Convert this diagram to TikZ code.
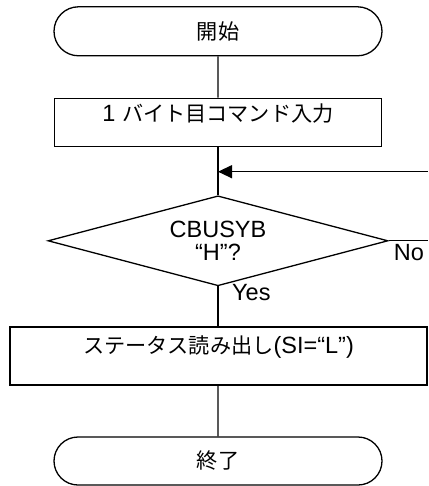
\documentclass[tikz,border=0pt]{standalone}
\usepackage{fontspec}
\setmainfont{Liberation Sans}
\newfontfamily\jp[Scale=0.9]{Noto Sans CJK JP}
\usetikzlibrary{arrows.meta, shapes.geometric, shapes.misc}
\tikzset{
  every picture/.style={line width=1.3pt, font=\fontsize{23.5pt}{21pt}\selectfont},
  terminal/.style={draw, rounded rectangle, minimum width=328pt, minimum height=49pt, inner sep=0pt},
  procbox/.style={draw, rectangle, minimum height=#1, inner sep=0pt},
  decision/.style={draw, diamond, shape aspect=3.78, minimum width=340pt, minimum height=90pt, inner sep=0pt, align=center},
  backarrow/.style={-{Triangle[length=14pt, width=13pt]}},
  answer/.style={inner sep=0pt, anchor=north west},
}

\begin{document}
\begin{tikzpicture}[x=1pt, y=-1pt]
  \useasboundingbox (0,0) rectangle (428,486);
  % terminals, boxes and the test
  \node[terminal] (start) at (218,31.3) {\jp 開始};
  \node[procbox=48.4pt, minimum width=327pt, text height=18pt, text depth=19pt] (cmd) at (218,122.5) {1 {\jp バイト目コマンド入力}};
  \node[decision] (busy) at (218,240.8) {CBUSYB\\[2pt]“H”?};
  \node[procbox=58pt, minimum width=417pt, text height=18pt, text depth=23pt] (stat) at (218.5,356) {{\jp ステータス読み出し}(SI=“L”)};
  \node[terminal, minimum height=48pt] (stop) at (218,461) {\jp 終了};
  \coordinate (noend) at (428,240.8);
  \coordinate (retry) at (428,171.7);

  \draw (start) -- (cmd);
  \draw (cmd) -- (busy);
  \draw (busy.south) -- (busy.south |- stat.north);
  \draw (stat.south -| stop.north) -- (stop);
  \draw (busy.east) -- (noend);
  \draw[backarrow] (retry) -- (retry -| busy.north);
  \node[answer, xshift=4.5pt, yshift=-3pt] (no) at (busy.east) {No};
  \node[answer, xshift=13.5pt, yshift=3pt] (yes) at (busy.south) {Yes};
\end{tikzpicture}
\end{document}
